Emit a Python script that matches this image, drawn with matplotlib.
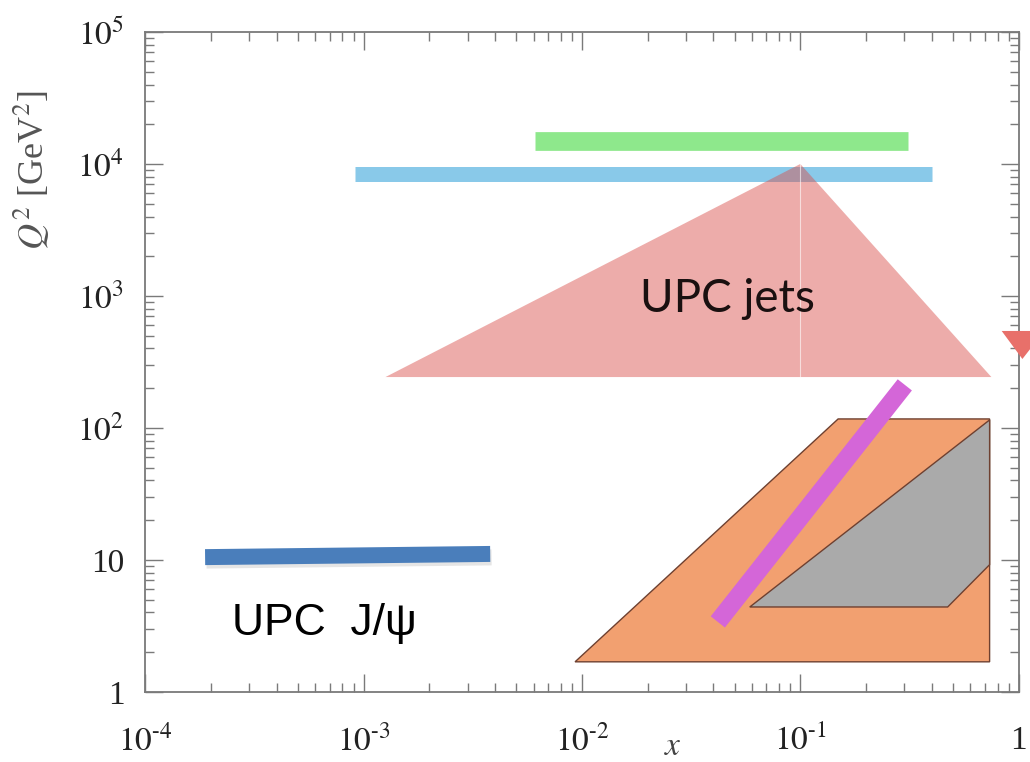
import matplotlib.pyplot as plt
from matplotlib.patches import Polygon
import matplotlib.patheffects as pe

plt.rcParams['font.family'] = 'serif'
plt.rcParams['font.serif'] = ['Liberation Serif', 'DejaVu Serif']
plt.rcParams['mathtext.fontset'] = 'stix'

# Kinematic coverage bands (x, Q^2)
green_x = [6.1e-3, 0.31]
green_q2 = [1.5e4, 1.5e4]
lightblue_x = [9.1e-4, 0.40]
lightblue_q2 = [8.4e3, 8.4e3]
jpsi_x = [1.88e-4, 3.8e-3]
jpsi_q2 = [10.5, 11.1]
magenta_x = [0.0419, 0.301]
magenta_q2 = [3.39, 212]

# UPC jets triangle
jets_x = [1.26e-3, 0.1, 0.75]
jets_q2 = [243, 1.0e4, 243]

# small red marker at the right edge
marker_x = [0.836, 1.31, 1.04]
marker_q2 = [543, 543, 333]

# orange region
orange_x = [9.3e-3, 0.149, 0.736, 0.736]
orange_q2 = [1.69, 117, 117, 1.69]

# grey region
grey_x = [0.0587, 0.473, 0.736, 0.736]
grey_q2 = [4.4, 4.4, 9.2, 115]

xticks = [1e-4, 1e-3, 1e-2, 1e-1, 1]
xticklabels = [r'$10^{\text{-}4}$', r'$10^{\text{-}3}$', r'$10^{\text{-}2}$', r'$10^{\text{-}1}$', '1']
yticks = [1, 10, 1e2, 1e3, 1e4, 1e5]
yticklabels = ['1', '10', '$10^{2}$', '$10^{3}$', '$10^{4}$', '$10^{5}$']

fig = plt.figure(figsize=(10.3, 7.62), dpi=100)
ax = fig.add_axes([0.141, 0.092, 0.848, 0.866])
ax.set_xscale('log')
ax.set_yscale('log')
ax.set_xlim(1e-4, 1)
ax.set_ylim(1, 1e5)

# bars
ax.plot(green_x, green_q2, color='#8ee88c', lw=13.5, solid_capstyle='butt', zorder=2)
ax.plot(lightblue_x, lightblue_q2, color='#89c9e9', lw=10.8, solid_capstyle='butt', zorder=2)

# UPC jets triangle (semi transparent over the blue bar)
ax.add_patch(Polygon(list(zip(jets_x, jets_q2)), closed=True, facecolor='#d9504c',
                     edgecolor='none', alpha=0.47, zorder=3))
ax.plot([0.1, 0.1], [jets_q2[0], jets_q2[1]], color='white', lw=0.8, alpha=0.6, zorder=3)
ax.text(0.0184, 950, 'UPC jets', fontsize=33, family='Lato', color='#1a1010',
        ha='left', va='center', zorder=4)

# red marker at the right edge
ax.add_patch(Polygon(list(zip(marker_x, marker_q2)), closed=True, facecolor='#e8706a',
                     edgecolor='none', clip_on=False, zorder=4))

# orange and grey regions
ax.add_patch(Polygon(list(zip(orange_x, orange_q2)), closed=True, facecolor='#f2a070',
                     edgecolor='#6e4030', lw=1.0, zorder=3))
ax.add_patch(Polygon(list(zip(grey_x, grey_q2)), closed=True, facecolor='#aaaaaa',
                     edgecolor='#6e4030', lw=1.0, zorder=3))

# magenta band
ax.plot(magenta_x, magenta_q2, color='#d466d8', lw=13, solid_capstyle='butt', zorder=5)

# UPC J/psi bar with soft shadow
ax.plot(jpsi_x, jpsi_q2, color='#4a7ebb', lw=11.5, solid_capstyle='butt', zorder=5,
        path_effects=[pe.SimpleLineShadow(offset=(1, -2.5), shadow_color='#999999', alpha=0.25),
                      pe.Normal()])
ax.text(2.5e-4, 3.27, 'UPC  J/ψ', fontsize=32, family='Liberation Sans', color='black',
        ha='left', va='center', zorder=5)

# axes styling
for s in ax.spines.values():
    s.set_color('#7a7a7a')
    s.set_linewidth(1.3)
ax.tick_params(which='both', direction='in', top=True, right=True, color='#7a7a7a',
               labelcolor='#222222')
ax.tick_params(which='major', length=13, width=1.0, labelsize=24)
ax.tick_params(axis='x', which='major', pad=24)
ax.tick_params(axis='y', which='major', pad=15)
ax.tick_params(which='minor', length=6.5, width=1.0)
ax.set_xticks(xticks)
ax.set_xticklabels(xticklabels)
ax.set_yticks(yticks)
ax.set_yticklabels(yticklabels)

ax.set_xlabel('$x$', fontsize=24, color='#444444')
ax.xaxis.set_label_coords(0.604, -0.06)
ax.set_ylabel(r'$Q^2$ [GeV$^2$]', fontsize=26, color='#555555')
ax.yaxis.set_label_coords(-0.107, 0.79)

fig.savefig('out.png', dpi=100)
